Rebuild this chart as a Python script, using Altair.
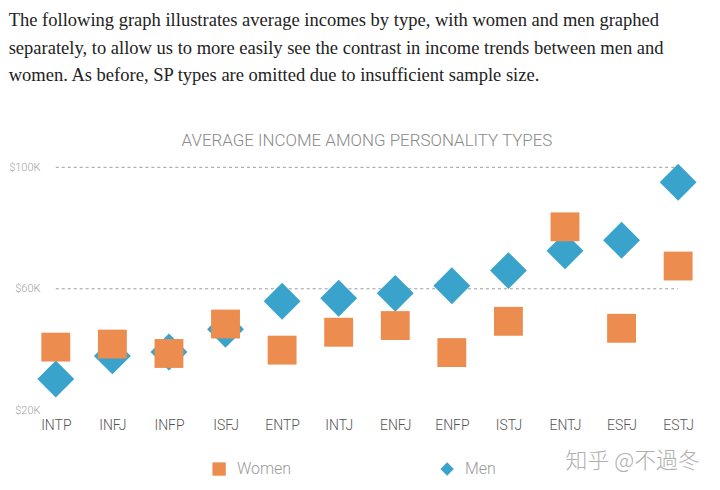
import altair as alt
import pandas as pd

types = ["INTP", "INFJ", "INFP", "ISFJ", "ENTP", "INTJ",
         "ENFJ", "ENFP", "ISTJ", "ENTJ", "ESFJ", "ESTJ"]
women_k = [40.8, 41.8, 38.7, 48.4, 39.8, 45.7, 47.9, 39.0, 49.3, 80.4, 47.0, 67.5]
men_k = [30.3, 37.9, 39.2, 46.7, 55.9, 56.9, 58.5, 61.0, 66.0, 72.5, 76.0, 95.1]
grid_values = [60000, 100000]
y_ticks = [20000, 60000, 100000]
series = ["Women", "Men"]
colors = ["#EC8C4E", "#3AA3CC"]
shapes = ["square", "diamond"]

paragraph = [
    "The following graph illustrates average incomes by type, with women and men graphed",
    "separately, to allow us to more easily see the contrast in income trends between men and",
    "women. As before, SP types are omitted due to insufficient sample size.",
]

men_df = pd.DataFrame({"type": types, "sex": "Men", "income": [v * 1000 for v in men_k]})
women_df = pd.DataFrame({"type": types, "sex": "Women", "income": [v * 1000 for v in women_k]})
grid_df = pd.DataFrame({"g": grid_values})

x_enc = alt.X("type:N", sort=types, title=None,
              scale=alt.Scale(type="point", padding=0),
              axis=alt.Axis(labelAngle=0, ticks=False, domain=False, grid=False,
                            labelFont="Roboto", labelFontWeight=300,
                            labelFontSize=14, labelColor="#555555",
                            labelPadding=8))
y_scale = alt.Scale(domain=[20000, 100000], nice=False, zero=False)
y_enc = alt.Y("income:Q", scale=y_scale, title=None,
              axis=alt.Axis(values=y_ticks, ticks=False, domain=False, grid=False,
                            labelExpr="'$' + datum.value/1000 + 'K'",
                            labelFont="Roboto", labelFontWeight=300,
                            labelFontSize=11, labelColor="#a0a0a0", labelPadding=16))
color_enc = alt.Color("sex:N", scale=alt.Scale(domain=series, range=colors),
                      legend=alt.Legend(title=None, orient="none", direction="horizontal",
                                        legendX=156, legendY=295,
                                        symbolSize=180, labelFontSize=16,
                                        labelFont="Roboto", labelFontWeight=300,
                                        labelColor="#9a9a9a", columnPadding=148,
                                        labelOffset=10, symbolStrokeWidth=0))
shape_enc = alt.Shape("sex:N", scale=alt.Scale(domain=series, range=shapes))

grid = alt.Chart(grid_df).mark_rule(color="#9a9a9a", strokeDash=[3, 3], strokeWidth=1).encode(
    y=alt.Y("g:Q", scale=y_scale),
    x=alt.value(0), x2=alt.value(625),
)

men_pts = alt.Chart(men_df).mark_point(filled=True, opacity=1, strokeWidth=0, size=1370).encode(
    x=x_enc, y=y_enc, color=color_enc, shape=shape_enc,
)
women_pts = alt.Chart(women_df).mark_point(filled=True, opacity=1, strokeWidth=0, size=841).encode(
    x=x_enc, y=y_enc, color=color_enc, shape=shape_enc,
)

mark_df = pd.DataFrame({"t": ["知乎 @不過冬"]})
watermark = alt.Chart(mark_df).mark_text(
    align="left", baseline="middle", fontSize=22, color="#b0b0b0",
    font="Noto Sans CJK SC", fontWeight=300).encode(
    text="t:N", x=alt.value(512), y=alt.value(295))

inner = alt.layer(grid, men_pts, women_pts, watermark).properties(
    width=625, height=244,
    title=alt.TitleParams("AVERAGE INCOME AMONG PERSONALITY TYPES", anchor="middle",
                          frame="group", font="Roboto", fontWeight=300,
                          fontSize=17, color="#8a8a8a", offset=11),
)

chart = alt.vconcat(inner).properties(
    title=alt.TitleParams(paragraph, anchor="start", font="Liberation Serif",
                          fontSize=18.6, fontWeight="normal", color="#222222",
                          lineHeight=27.5, offset=48),
    padding={"left": 0, "top": 2, "right": 12, "bottom": 0},
).configure_view(stroke=None)

chart.save("out.html", embed_options={"renderer": "svg", "actions": False})
